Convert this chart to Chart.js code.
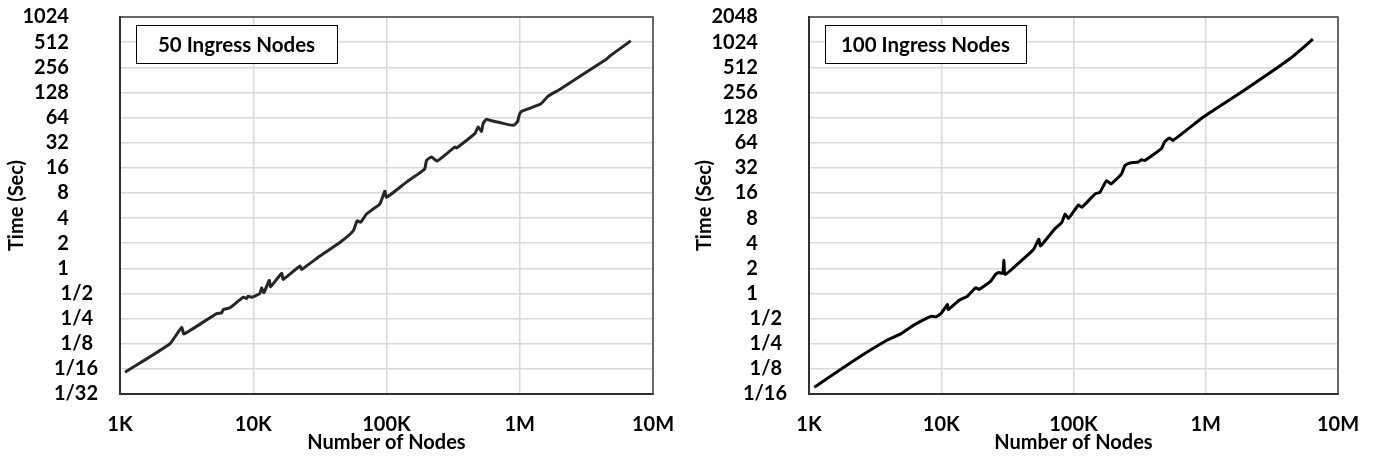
<!DOCTYPE html>
<html>
<head>
<meta charset="utf-8">
<script src="https://cdn.jsdelivr.net/npm/chart.js@4.4.1/dist/chart.umd.min.js"></script>
<style>
  body { margin: 0; background: #fff; }
  .painel { position: absolute; top: 0; width: 688px; height: 460px; }
</style>
</head>
<body>
<div class="painel" style="left:0"><canvas id="grafico50" width="688" height="460"></canvas></div>
<div class="painel" style="left:688px"><canvas id="grafico100" width="688" height="460"></canvas></div>
<script>
// Eixo X (número de nós)
const xTicks = [1e3, 1e4, 1e5, 1e6, 1e7];
const xLabels = ["1K", "10K", "100K", "1M", "10M"];

// 50 ingress nodes
const titulo50 = "50 Ingress Nodes";
const nodes50 = [1090, 2370, 2900, 3020, 5310, 5800, 5960, 6680, 8410, 8910, 9160, 9730, 11200, 11560, 12020,
  13180, 13490, 16330, 16790, 22390, 23070, 31620, 44670, 56230, 60260, 63830, 70790, 79430, 89130, 97270,
  100000, 141300, 183200, 194100, 199500, 217800, 239900, 325800, 335000, 460300, 487500, 516400, 530900,
  562300, 595700, 707900, 891300, 961600, 1000000, 1059000, 1413000, 1496000, 1633000, 1995000, 4467000,
  4875000, 6808000];
const time50 = [0.057, 0.125, 0.196, 0.164, 0.287, 0.293, 0.321, 0.337, 0.451, 0.435, 0.463, 0.451, 0.5, 0.586, 0.511,
  0.717, 0.603, 0.871, 0.737, 1.064, 0.973, 1.404, 2.04, 2.81, 3.71, 3.56, 4.47, 5.13, 5.9, 8.4,
  7.11, 10.78, 14.4, 15.6, 19.6, 21.6, 19.3, 28.4, 27.7, 41.1, 49.5, 43.7, 54.2,
  61.0, 59.3, 55.7, 51.6, 56.9, 71.5, 77.2, 91.8, 99.0, 115.4, 139, 320,
  360, 530];
const yTicks50 = [1/32, 1/16, 1/8, 1/4, 1/2, 1, 2, 4, 8, 16, 32, 64, 128, 256, 512, 1024];
const yLabels50 = ["1/32", "1/16", "1/8", "1/4", "1/2", "1", "2", "4", "8", "16", "32", "64", "128", "256", "512", "1024"];

// 100 ingress nodes
const titulo100 = "100 Ingress Nodes";
const nodes100 = [1096, 2218, 3945, 4977, 5741, 6637, 8356, 9120, 9954, 11140, 11300, 13650, 15780, 18200, 19320,
  23660, 25760, 27290, 29170, 29790, 30340, 37500, 50000, 54580, 56230, 66830, 72780, 81660, 86500, 91620,
  109100, 115600, 145900, 158500, 177800, 191900, 230700, 244900, 266700, 308300, 326600, 345900,
  461300, 488700, 533300, 564900, 966100, 1954000, 4375000, 6457000];
const time100 = [0.0754, 0.160, 0.279, 0.330, 0.387, 0.444, 0.532, 0.525, 0.574, 0.737, 0.642, 0.829, 0.927, 1.173, 1.117,
  1.404, 1.693, 1.778, 1.74, 2.50, 1.69, 2.23, 3.39, 4.47, 3.71, 5.13, 6.02, 7.11, 8.94, 7.94,
  11.47, 10.78, 15.6, 16.3, 22.5, 20.5, 27.1, 34.1, 36.5, 37.5, 39.9, 39.1,
  54.2, 65.3, 73.0, 68.1, 130.7, 272, 657, 1113];
const yTicks100 = [1/16, 1/8, 1/4, 1/2, 1, 2, 4, 8, 16, 32, 64, 128, 256, 512, 1024, 2048];
const yLabels100 = ["1/16", "1/8", "1/4", "1/2", "1", "2", "4", "8", "16", "32", "64", "128", "256", "512", "1024", "2048"];

const fonte = { family: "Lato, 'Open Sans', sans-serif", size: 20, weight: "bold" };

// Alinha os rótulos como no formato de fração do Excel
function padLabel(txt) {
    if (txt.indexOf("/") < 0) return txt + "      ";
    if (txt.split("/")[1].length < 2) return txt + " ";
    return txt;
}

// Moldura do gráfico e caixa do título
const moldura = {
    id: "moldura",
    afterDraw(chart, args, opts) {
        const { ctx, chartArea: a } = chart;
        ctx.save();
        ctx.strokeStyle = "#404040";
        ctx.lineWidth = 1.5;
        ctx.strokeRect(a.left, a.top, a.right - a.left, a.bottom - a.top);

        const bx = a.left + 16, by = a.top + 8, bw = 201, bh = 38;
        ctx.fillStyle = "#fff";
        ctx.fillRect(bx, by, bw, bh);
        ctx.strokeStyle = "#000";
        ctx.lineWidth = 1;
        ctx.strokeRect(bx + 0.5, by + 0.5, bw, bh);
        ctx.fillStyle = "#000";
        ctx.font = "bold 20.5px Lato, 'Open Sans', sans-serif";
        ctx.textAlign = "center";
        ctx.textBaseline = "middle";
        ctx.fillText(opts.texto, bx + bw / 2, by + bh / 2 + 1);
        ctx.restore();
    }
};

function criarGrafico(id, nodes, tempos, yTicks, yLabels, titulo, cor, larguraY, padDireita) {
    const ctx = document.getElementById(id).getContext("2d");
    const pontos = nodes.map((n, i) => ({ x: n, y: tempos[i] }));

    return new Chart(ctx, {
        type: "line",
        data: {
            datasets: [{
                data: pontos,
                borderColor: cor,
                borderWidth: 3,
                pointRadius: 0,
                tension: 0.15,
                fill: false
            }]
        },
        options: {
            responsive: false,
            animation: false,
            devicePixelRatio: 1,
            layout: { padding: { top: 17, right: padDireita, bottom: 0, left: 0 } },
            plugins: {
                legend: { display: false },
                tooltip: { enabled: false },
                moldura: { texto: titulo }
            },
            scales: {
                x: {
                    type: "logarithmic",
                    min: xTicks[0],
                    max: xTicks[xTicks.length - 1],
                    afterBuildTicks: s => { s.ticks = xTicks.map(v => ({ value: v })); },
                    afterFit: s => { s.height = 66; s.paddingLeft = 0; s.paddingRight = 0; },
                    ticks: {
                        callback: (v, i) => xLabels[i],
                        font: fonte, color: "#000", padding: 19,
                        maxRotation: 0, autoSkip: false
                    },
                    grid: { color: "#d9d9d9", lineWidth: 1.5, drawTicks: false },
                    border: { color: "#000", width: 2 },
                    title: { display: true, text: "Number of Nodes", font: fonte, color: "#000", padding: { top: 0, bottom: 5 } }
                },
                y: {
                    type: "logarithmic",
                    min: yTicks[0],
                    max: yTicks[yTicks.length - 1],
                    afterBuildTicks: s => { s.ticks = yTicks.map(v => ({ value: v })); },
                    afterFit: s => { s.width = larguraY; s.paddingTop = 0; s.paddingBottom = 0; },
                    ticks: {
                        callback: (v, i) => padLabel(yLabels[i]),
                        font: fonte, color: "#000", padding: 22, autoSkip: false
                    },
                    grid: { color: "#d9d9d9", lineWidth: 1.5, drawTicks: false },
                    border: { color: "#000", width: 2 },
                    title: { display: true, text: "Time (Sec)", font: fonte, color: "#000", padding: { top: 5, bottom: 0 } }
                }
            }
        },
        plugins: [moldura]
    });
}

criarGrafico("grafico50", nodes50, time50, yTicks50, yLabels50, titulo50, "#262626", 120, 35);
criarGrafico("grafico100", nodes100, time100, yTicks100, yLabels100, titulo100, "#000", 121, 38);
</script>
</body>
</html>
